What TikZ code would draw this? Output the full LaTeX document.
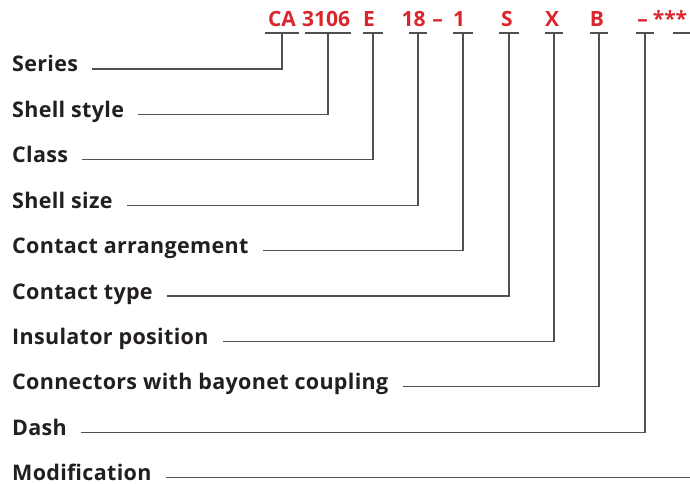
\documentclass[tikz,border=0pt]{standalone}
\usepackage{fontspec}
\setmainfont{Open Sans}
\newfontfamily\lblfont[LetterSpace=1.5]{Open Sans}
\usetikzlibrary{positioning}
\definecolor{codered}{RGB}{218,37,45}
\definecolor{leadgray}{RGB}{80,80,80}
\definecolor{labelink}{RGB}{35,31,32}

\begin{document}
\begin{tikzpicture}[
  x=1pt,y=-1pt,
  lbl/.style={anchor=base west,inner sep=0pt,font=\lblfont\fontsize{21.5}{24}\selectfont\bfseries,text=labelink},
  code/.style={inner sep=0pt,font=\fontsize{21}{24}\selectfont\bfseries,text=codered},
  slot/.style={inner sep=0pt,minimum height=0pt,minimum width=#1},
  slot/.default=19pt,
  lead/.style={draw=leadgray,line width=1.1pt}]
\useasboundingbox (0,0) rectangle (690,484);
% underlined slots of the order code
\node[slot=33pt] (s1) at (282,33) {};
\node[slot=45pt] (s2) at (328,33) {};
\node[slot] (s3) at (373,33) {};
\node[slot=18pt] (s4) at (418,33) {};
\node[slot] (s5) at (463,33) {};
\node[slot] (s6) at (509,33) {};
\node[slot=18pt] (s7) at (554,33) {};
\node[slot=18pt] (s8) at (599,33) {};
\node[slot=18pt] (s9) at (645,33) {};
\node[slot=40pt] (s10) at (693,33) {};
\foreach \s in {s1,s2,s3,s4,s5,s6,s7,s8,s9,s10}
  \draw[lead] (\s.west)--(\s.east);
% code letters
\node[code,above=6pt of s1] (ca) {CA};
\node[code,above=6pt of s2,xshift=-2pt] (c3106) {3106};
\node[code,above=6pt of s3,xshift=-4pt] (ce) {E};
\node[code,above=6pt of s4,xshift=-4.5pt] (c18) {18};
\node[code,above=6pt of s4,xshift=19.5pt] (cdash) {--};
\node[code,above=6pt of s5,xshift=-4pt] (c1) {1};
\node[code,above=6pt of s6,xshift=-2pt] (cs) {S};
\node[code,above=6pt of s7,xshift=-2pt] (cx) {X};
\node[code,above=6pt of s8,xshift=-2pt] (cb) {B};
\node[code,above=6pt of s9,xshift=-2.5pt] (cdash2) {--};
\node[code,above=6pt of s10,xshift=-23pt] (cmod) {***};
% labels
\node[lbl] (ser) at (12,72) {Series};
\node[lbl] (shs) at (12,117.4) {Shell style};
\node[lbl] (cls) at (12,162.8) {Class};
\node[lbl] (siz) at (12,208.2) {Shell size};
\node[lbl] (arr) at (12,253.6) {Contact arrangement};
\node[lbl] (typ) at (12,299) {Contact type};
\node[lbl] (ins) at (12,344.4) {Insulator position};
\node[lbl] (bay) at (12,389.8) {Connectors with bayonet coupling};
\node[lbl] (dsh) at (12,435.2) {Dash};
\node[lbl] (mod) at (12,480.6) {Modification};
% leaders
\draw[lead] ([xshift=14pt,yshift=3pt]ser.base east) -| (s1.south);
\draw[lead] ([xshift=14pt,yshift=3pt]shs.base east) -| (s2.south);
\draw[lead] ([xshift=14pt,yshift=3pt]cls.base east) -| (s3.south);
\draw[lead] ([xshift=14pt,yshift=3pt]siz.base east) -| (s4.south);
\draw[lead] ([xshift=14pt,yshift=3pt]arr.base east) -| (s5.south);
\draw[lead] ([xshift=14pt,yshift=3pt]typ.base east) -| (s6.south);
\draw[lead] ([xshift=14pt,yshift=3pt]ins.base east) -| (s7.south);
\draw[lead] ([xshift=14pt,yshift=3pt]bay.base east) -| (s8.south);
\draw[lead] ([xshift=14pt,yshift=3pt]dsh.base east) -| (s9.south);
\draw[lead] ([xshift=14pt,yshift=3pt]mod.base east) -| (s10.south);
\end{tikzpicture}
\end{document}
